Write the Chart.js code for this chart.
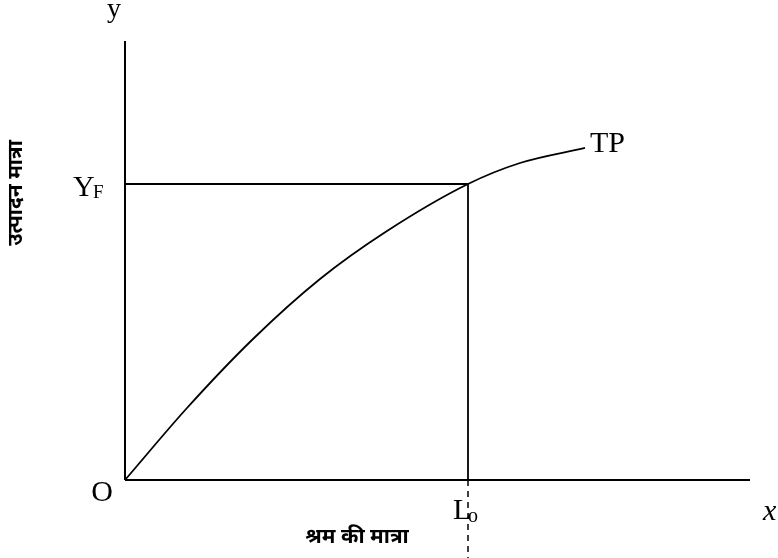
<!DOCTYPE html>
<html>
<head>
<meta charset="utf-8">
<script src="https://cdn.jsdelivr.net/npm/chart.js@4/dist/chart.umd.min.js"></script>
<style>
  html, body { margin: 0; padding: 0; background: #ffffff; }
  #wrap { width: 778px; height: 558px; position: relative; }
</style>
</head>
<body>
<div id="wrap"><canvas id="c"></canvas></div>
<script>
// Labour input (x) and total product (y), axes span 0..100
const labourUnits   = [0, 9.92, 20.48, 31.2, 41.92, 54.88, 63.2, 73.6];
const totalProduct  = [0, 16.4, 32.12, 45.79, 56.72, 67.43, 72.21, 75.63];
const axisMax = [100, 100];          // x-axis end, y-axis end
const labourL0 = 54.88;              // L_o
const outputYF = 67.43;              // Y_F
const curveName = 'TP';
const xAxisTitle = 'श्रम की मात्रा';
const yAxisTitle = 'उत्पादन मात्रा';

const curvePoints = labourUnits.map((v, i) => ({ x: v, y: totalProduct[i] }));

const labelPlugin = {
  id: 'labels',
  afterDraw(chart) {
    const ctx = chart.ctx;
    const xs = chart.scales.x, ys = chart.scales.y;
    const X = v => xs.getPixelForValue(v), Y = v => ys.getPixelForValue(v);
    ctx.save();
    ctx.fillStyle = '#000';
    ctx.textBaseline = 'alphabetic';
    const serif = '"Liberation Serif", "Times New Roman", serif';
    // y axis letter
    ctx.font = '28px ' + serif;
    ctx.textAlign = 'center';
    ctx.fillText('y', X(0) - 11, 17);
    // O origin
    ctx.font = '30px ' + serif;
    ctx.fillText('O', X(0) - 23, Y(0) + 21);
    // Y_F
    ctx.textAlign = 'left';
    ctx.font = '30px ' + serif;
    ctx.fillText('Y', X(0) - 52, Y(outputYF) + 12);
    ctx.font = '19px ' + serif;
    ctx.fillText('F', X(0) - 32, Y(outputYF) + 14);
    // L_o
    ctx.font = '30px ' + serif;
    ctx.fillText('L', X(labourL0) - 15, Y(0) + 39);
    ctx.font = '20px ' + serif;
    ctx.fillText('o', X(labourL0), Y(0) + 42);
    // x axis letter
    ctx.font = 'italic 30px ' + serif;
    ctx.fillText('x', X(axisMax[0]) + 13, Y(0) + 40);
    // TP
    const last = curvePoints[curvePoints.length - 1];
    ctx.font = '30px ' + serif;
    ctx.fillText(curveName, X(last.x) + 5, Y(last.y) + 4);
    // Hindi axis titles
    const deva = 'bold 21px "Noto Sans Devanagari", "Noto Sans", "Lohit Devanagari", "FreeSans", sans-serif';
    ctx.font = deva;
    ctx.textAlign = 'center';
    ctx.textBaseline = 'middle';
    ctx.fillText(xAxisTitle, X(labourL0) - 111, Y(0) + 59);
    ctx.translate(18, Y(outputYF) + 9);
    ctx.rotate(-Math.PI / 2);
    ctx.fillText(yAxisTitle, 0, 0);
    ctx.restore();
  }
};

new Chart(document.getElementById('c'), {
  type: 'scatter',
  data: {
    datasets: [
      { data: curvePoints, showLine: true, borderColor: '#000', borderWidth: 1.8,
        pointRadius: 0, cubicInterpolationMode: 'monotone', fill: false },
      { data: [{ x: 0, y: 0 }, { x: 0, y: axisMax[1] }], showLine: true, borderColor: '#000',
        borderWidth: 2, pointRadius: 0 },
      { data: [{ x: 0, y: 0 }, { x: axisMax[0], y: 0 }], showLine: true, borderColor: '#000',
        borderWidth: 2, pointRadius: 0 },
      { data: [{ x: 0, y: outputYF }, { x: labourL0, y: outputYF }], showLine: true, borderColor: '#000',
        borderWidth: 1.8, pointRadius: 0 },
      { data: [{ x: labourL0, y: outputYF }, { x: labourL0, y: 0 }], showLine: true, borderColor: '#000',
        borderWidth: 1.8, pointRadius: 0 },
      { data: [{ x: labourL0, y: 0 }, { x: labourL0, y: -20 }], showLine: true, borderColor: '#000',
        borderWidth: 1.5, borderDash: [6, 5], pointRadius: 0 }
    ]
  },
  options: {
    responsive: true,
    maintainAspectRatio: false,
    animation: false,
    layout: { padding: 0 },
    plugins: { legend: { display: false }, tooltip: { enabled: false }, title: { display: false } },
    scales: {
      x: { type: 'linear', display: false, min: -20, max: 104.48 },
      y: { type: 'linear', display: false, min: -17.77, max: 109.34 }
    }
  },
  plugins: [labelPlugin]
});
</script>
</body>
</html>
